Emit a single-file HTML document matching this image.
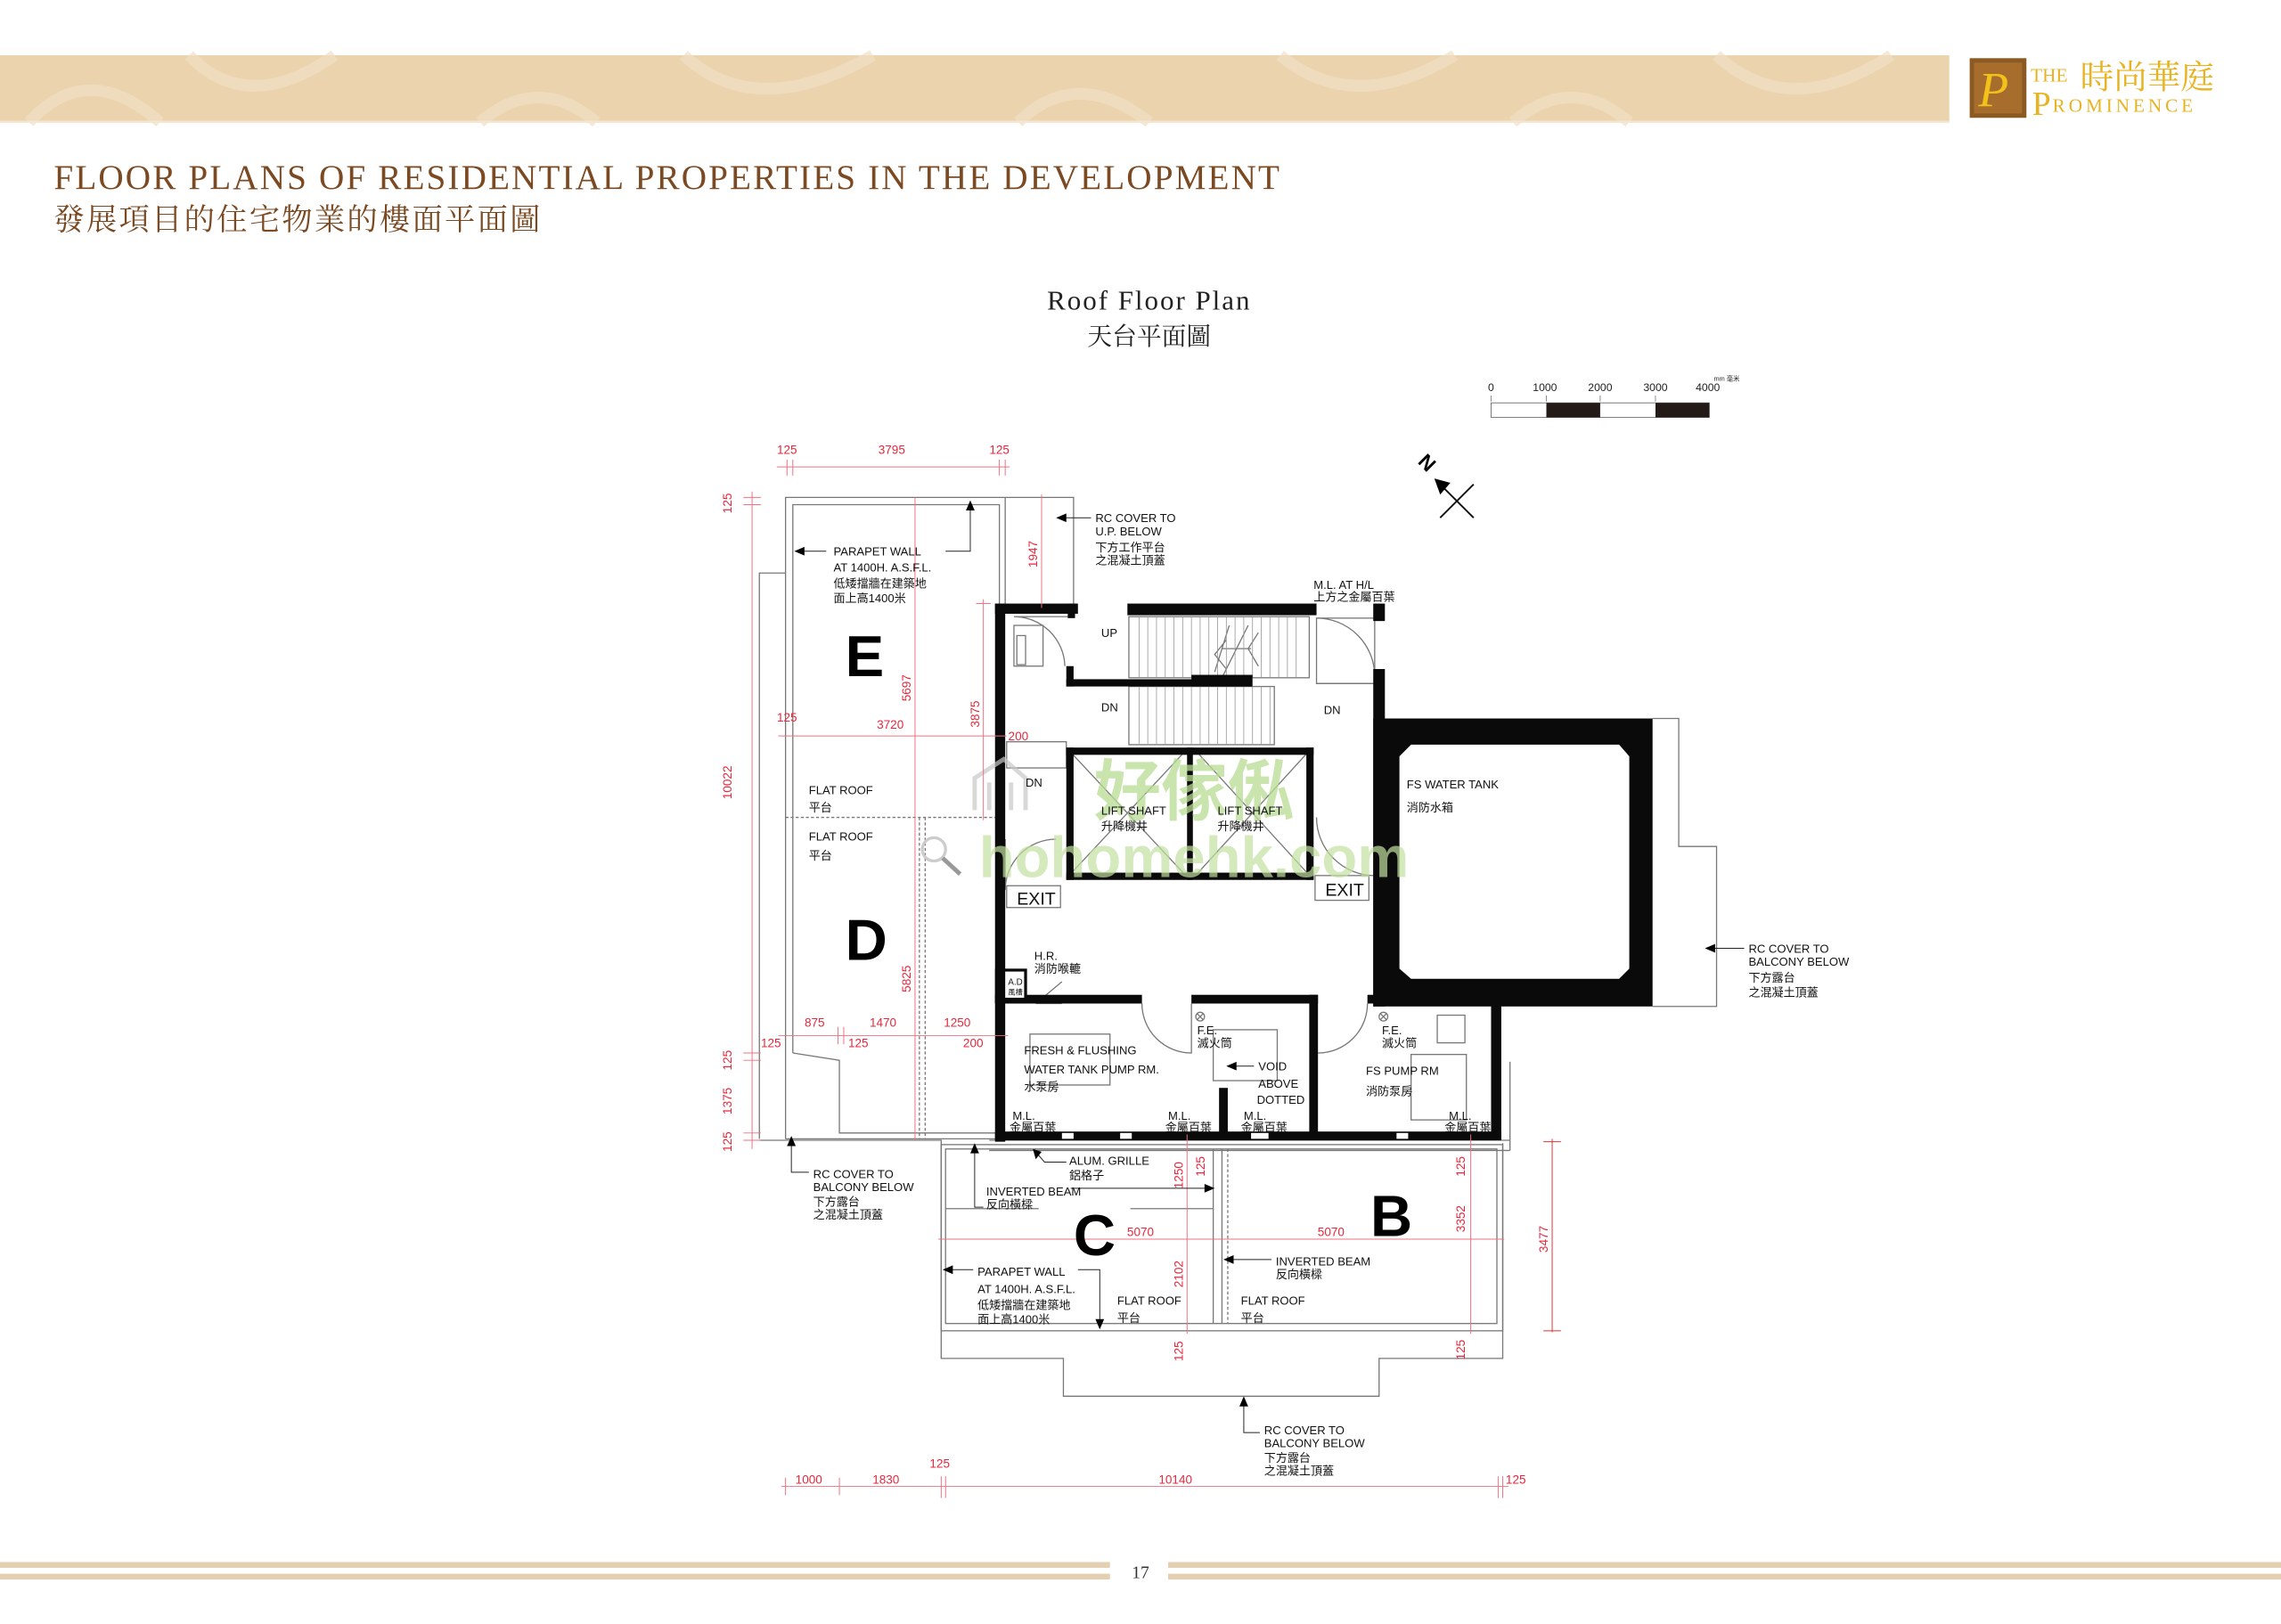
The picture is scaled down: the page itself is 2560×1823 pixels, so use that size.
<!DOCTYPE html>
<html><head><meta charset="utf-8"><style>
html,body{margin:0;padding:0;background:#fff;}
svg{display:block;}
.t{font-family:"Liberation Sans Narrow","Liberation Sans","Noto Sans CJK TC",sans-serif;font-size:8px;fill:#111;}
.r{font-family:"Liberation Sans Narrow","Liberation Sans",sans-serif;font-size:8.3px;fill:#e5283c;}
.big{font-family:"Liberation Sans","DejaVu Sans",sans-serif;font-weight:bold;font-size:40px;fill:#000;}
</style></head><body>
<svg width="2560" height="1823" viewBox="0 0 1568 1116.6" preserveAspectRatio="none" xmlns="http://www.w3.org/2000/svg">
<!-- header band -->
<rect x="0" y="38" width="1340" height="46" fill="#ebd3ae"/>
<g fill="none" stroke="#f1e0c4" stroke-width="8" opacity="0.7">
<path d="M20,84 Q60,40 110,84"/><path d="M130,38 Q170,80 230,38"/><path d="M330,84 Q370,50 410,84"/>
<path d="M470,38 Q520,84 600,38"/><path d="M700,84 Q740,45 790,84"/><path d="M880,38 Q930,80 1000,38"/>
<path d="M1040,84 Q1080,50 1120,84"/><path d="M1180,38 Q1230,84 1300,38"/>
</g>
<rect x="0" y="83" width="1340" height="1.5" fill="#f4e6d2"/>
<!-- logo -->
<rect x="1354" y="40" width="39" height="41" fill="#8a5a22"/>
<rect x="1357" y="43" width="33" height="35" fill="#a66d2c"/>
<text x="1360" y="73" font-family="Liberation Serif,serif" font-style="italic" font-size="34" fill="#f2c21a">P</text>
<text x="1396" y="56" font-family="Liberation Serif,serif" font-size="13" fill="#e8b320">THE</text>
<text x="1430" y="61" font-family="Liberation Serif,'Noto Serif CJK SC',serif" font-size="23" fill="#e8b320">時尚華庭</text>
<text x="1397" y="79" font-family="Liberation Serif,serif" font-size="23" fill="#e8b320">P</text>
<text x="1411" y="77" font-family="Liberation Serif,serif" font-size="13" letter-spacing="2.4" fill="#e8b320">ROMINENCE</text>
<!-- titles -->
<text x="37" y="130" font-family="Liberation Serif,serif" font-size="24" fill="#7b4a22" letter-spacing="1.3">FLOOR  PLANS  OF  RESIDENTIAL  PROPERTIES  IN  THE  DEVELOPMENT</text>
<text x="37" y="158" font-family="Liberation Serif,'Noto Serif CJK SC',serif" font-size="21" fill="#7b4a22" letter-spacing="1.4">發展項目的住宅物業的樓面平面圖</text>
<text x="790" y="213" text-anchor="middle" font-family="Liberation Serif,serif" font-size="19" fill="#222" letter-spacing="1.2">Roof  Floor  Plan</text>
<text x="790" y="237" text-anchor="middle" font-family="Liberation Serif,'Noto Serif CJK SC',serif" font-size="17" fill="#222">天台平面圖</text>
<!-- scale bar -->
<g font-family="Liberation Sans,sans-serif" font-size="7.5" fill="#222" text-anchor="middle">
<text x="1025" y="269">0</text><text x="1062" y="269">1000</text><text x="1100" y="269">2000</text><text x="1138" y="269">3000</text><text x="1174" y="269">4000</text>
<text x="1187" y="262" font-size="4.5">mm 毫米</text></g>
<g stroke="#888" stroke-width="0.6"><line x1="1025" y1="272" x2="1025" y2="276"/><line x1="1063" y1="272" x2="1063" y2="276"/><line x1="1100" y1="272" x2="1100" y2="276"/><line x1="1138" y1="272" x2="1138" y2="276"/></g>
<rect x="1025" y="277" width="150" height="10" fill="#fff" stroke="#777" stroke-width="0.6"/>
<rect x="1063" y="277" width="37" height="10" fill="#231a17"/><rect x="1138" y="277" width="37" height="10" fill="#231a17"/>
<!-- north -->
<g stroke="#111" stroke-width="1.2" fill="none"><line x1="990" y1="333" x2="1013" y2="356"/><line x1="990" y1="356" x2="1013" y2="333"/></g>
<polygon points="986,329 997,332 990,340" fill="#000"/>
<text x="0" y="0" transform="translate(974,318) rotate(45)" font-family="Liberation Sans,sans-serif" font-weight="bold" font-size="14" fill="#000">N</text>

<!-- ===== plan thin outlines ===== -->
<g fill="none" stroke="#777" stroke-width="0.8">
<polyline points="540,783 540,342 738,342 738,416"/>
<polyline points="545,724 545,347 687,347 687,416"/>
<line x1="691" y1="342" x2="691" y2="416"/>
<polyline points="545,724 577,729 577,779 684,779"/>
<polyline points="540,783 684,783"/>
<polyline points="522,783 522,394 540,394"/>
<polyline points="522,784 647,784 647,934 731,934 731,960 948,960 948,934 1033,934 1033,786"/>
<rect x="647" y="787" width="386" height="128"/>
<rect x="650" y="790" width="379" height="120"/>
<line x1="834" y1="790" x2="834" y2="910"/><line x1="840" y1="790" x2="840" y2="910"/>
<line x1="650" y1="831" x2="714" y2="831"/><line x1="777" y1="831" x2="834" y2="831"/>
<line x1="680" y1="784" x2="1038" y2="784"/><line x1="680" y1="791" x2="1038" y2="791"/>
<line x1="1038" y1="730" x2="1038" y2="791"/>
<polyline points="1136,494 1154,494 1154,582 1180,582 1180,692 1136,692"/>
<line x1="636" y1="562" x2="636" y2="783" stroke-dasharray="2,1.5"/>
<line x1="632" y1="562" x2="632" y2="783" stroke-dasharray="2,1.5"/>
<line x1="540" y1="562" x2="684" y2="562" stroke-dasharray="2,1.5"/>
<line x1="844" y1="790" x2="844" y2="910" stroke-dasharray="2,1.5"/>
<rect x="697" y="430" width="20" height="28"/><rect x="699" y="437" width="6" height="20"/>
<path d="M697,424 L737,424 M697,424 A35,35 0 0 1 732,458"/>
<rect x="776" y="424" width="124" height="42"/><rect x="776" y="472" width="100" height="40"/>
<rect x="905" y="425" width="40" height="45"/>
<path d="M905,425 A40,40 0 0 1 945,465"/>
<path d="M905,470 L945,470"/>
<rect x="692" y="510" width="41" height="18"/>
<path d="M691,612 A35,35 0 0 1 726,577 M691,612 L691,577"/>
<path d="M945,602 A40,40 0 0 1 905,562"/>
<rect x="962" y="580" width="26" height="25"/><rect x="962" y="584" width="6" height="17"/>
<rect x="692" y="609" width="37" height="15"/><rect x="904" y="602" width="37" height="17"/>
<path d="M785,690 A34,34 0 0 0 819,724 L819,690"/>
<path d="M940,690 A34,34 0 0 1 906,724"/>
<rect x="708" y="711" width="55" height="35"/><rect x="834" y="708" width="44" height="35"/>
<rect x="988" y="698" width="19" height="19"/><rect x="970" y="725" width="38" height="45"/>
<path d="M712,690 L730,675 M712,690 L730,690"/>
<line x1="733" y1="514" x2="817" y2="604"/><line x1="817" y1="514" x2="733" y2="604"/>
<line x1="820" y1="514" x2="902" y2="604"/><line x1="902" y1="514" x2="820" y2="604"/>
<path d="M845,430 L835,462 M858,430 L840,466 M840,446 L860,446 M843,440 L835,450 L843,460 M865,435 L858,446 L865,458"/>
<circle cx="825" cy="699" r="3"/><path d="M823,697 L827,701 M827,697 L823,701"/>
<circle cx="951" cy="699" r="3"/><path d="M949,697 L953,701 M953,697 L949,701"/>
</g>
<path stroke="#999" stroke-width="0.5" fill="none" d="M783,424V466M789,424V466M795,424V466M801,424V466M807,424V466M813,424V466M819,424V466M825,424V466M831,424V466M837,424V466M843,424V466M849,424V466M855,424V466M861,424V466M867,424V466M873,424V466M879,424V466M885,424V466M891,424V466M783,472V512M789,472V512M795,472V512M801,472V512M807,472V512M813,472V512M819,472V512M825,472V512M831,472V512M837,472V512M843,472V512M849,472V512M855,472V512M861,472V512M867,472V512M873,472V512"/>
<!-- ===== black walls ===== -->
<g fill="#0a0a0a">
<rect x="684" y="415" width="7" height="370"/>
<rect x="684" y="415" width="57" height="7"/>
<rect x="734" y="415" width="5" height="10"/>
<rect x="775" y="415" width="130" height="8"/>
<rect x="944" y="415" width="8" height="12"/>
<rect x="944" y="460" width="8" height="232"/>
<rect x="733" y="458" width="5" height="14"/>
<rect x="733" y="467" width="127" height="5"/>
<rect x="819" y="464" width="42" height="8"/>
<rect x="944" y="494" width="192" height="198"/>
<rect x="733" y="514" width="170" height="5"/><rect x="733" y="600" width="170" height="5"/>
<rect x="733" y="514" width="5" height="91"/><rect x="898" y="514" width="5" height="91"/><rect x="816" y="514" width="4" height="91"/>
<rect x="684" y="666" width="22" height="24"/>
<rect x="684" y="684" width="101" height="6"/>
<rect x="819" y="684" width="87" height="6"/>
<rect x="900" y="684" width="6" height="100"/>
<rect x="940" y="684" width="92" height="6"/>
<rect x="1025" y="684" width="7" height="100"/>
<rect x="838" y="748" width="6" height="36"/>
<rect x="684" y="778" width="348" height="6"/>
</g>
<path fill="#fff" d="M970,512 L1113,512 L1120,520 L1120,666 L1113,673 L970,673 L962,666 L962,520 Z"/>
<rect x="691" y="668" width="13" height="18" fill="#fff"/>
<g fill="#fff"><rect x="730" y="779" width="8" height="4"/><rect x="770" y="779" width="8" height="4"/><rect x="860" y="779" width="12" height="4"/><rect x="960" y="779" width="8" height="4"/></g>
<!-- watermark -->
<text x="752" y="560" font-family="'Noto Sans CJK SC','WenQuanYi Zen Hei',sans-serif" font-weight="bold" font-size="46" fill="#b9dc92" opacity="0.75">好傢俬</text>
<text x="673" y="603" font-family="Liberation Sans,sans-serif" font-weight="bold" font-size="40" fill="#c2e0a0" opacity="0.7">hohomehk.com</text>
<path d="M670,557 L670,535 L690,522 L705,535 L705,557 M680,557 L680,538 M695,557 L695,538" stroke="#c8c8c8" stroke-width="3" fill="none" opacity="0.7"/>
<circle cx="642" cy="584" r="8" stroke="#ccc" stroke-width="2" fill="none"/><line x1="648" y1="590" x2="660" y2="601" stroke="#999" stroke-width="3"/>
<!-- ===== red dimension lines ===== -->
<g stroke="#f0707f" stroke-width="0.6" fill="none">
<line x1="534" y1="321" x2="694" y2="321"/><line x1="541" y1="316" x2="541" y2="327"/><line x1="545" y1="316" x2="545" y2="327"/><line x1="687" y1="316" x2="687" y2="327"/><line x1="691" y1="316" x2="691" y2="327"/>
<line x1="517" y1="338" x2="517" y2="790"/><line x1="511" y1="342" x2="523" y2="342"/><line x1="511" y1="347" x2="523" y2="347"/>
<line x1="511" y1="724" x2="523" y2="724"/><line x1="511" y1="729" x2="523" y2="729"/><line x1="511" y1="779" x2="523" y2="779"/><line x1="511" y1="784" x2="523" y2="784"/>
<line x1="629" y1="342" x2="629" y2="784"/>
<line x1="716" y1="340" x2="716" y2="418"/>
<line x1="676" y1="412" x2="676" y2="564"/><line x1="671" y1="415" x2="681" y2="415"/>
<line x1="535" y1="506" x2="692" y2="506"/>
<line x1="535" y1="712" x2="693" y2="712"/><line x1="576" y1="706" x2="576" y2="718"/><line x1="580" y1="706" x2="580" y2="718"/>
<line x1="816" y1="780" x2="816" y2="917"/><line x1="1011" y1="780" x2="1011" y2="917"/>
<line x1="645" y1="852" x2="1034" y2="852"/>
<line x1="537" y1="1022" x2="1037" y2="1022"/><line x1="540" y1="1016" x2="540" y2="1028"/><line x1="577" y1="1016" x2="577" y2="1028"/><line x1="647" y1="1015" x2="647" y2="1030"/><line x1="650" y1="1015" x2="650" y2="1030"/><line x1="1030" y1="1015" x2="1030" y2="1030"/><line x1="1033" y1="1015" x2="1033" y2="1030"/>
</g>
<g stroke="#d33" stroke-width="0.6"><line x1="1067" y1="783" x2="1067" y2="916"/><line x1="1061" y1="785" x2="1073" y2="785"/><line x1="1061" y1="915" x2="1073" y2="915"/></g>
<g class="r" text-anchor="middle">
<text x="541" y="312">125</text><text x="613" y="312">3795</text><text x="687" y="312">125</text>
<text x="541" y="496">125</text><text x="612" y="501">3720</text><text x="700" y="509">200</text>
<text x="560" y="706">875</text><text x="607" y="706">1470</text><text x="658" y="706">1250</text>
<text x="530" y="720">125</text><text x="590" y="720">125</text><text x="669" y="720">200</text>
<text x="784" y="850">5070</text><text x="915" y="850">5070</text>
<text x="556" y="1020">1000</text><text x="609" y="1020">1830</text><text x="646" y="1009">125</text><text x="808" y="1020">10140</text><text x="1042" y="1020">125</text>
</g>
<g class="r" text-anchor="middle">
<text transform="translate(503,346) rotate(-90)">125</text>
<text transform="translate(503,538) rotate(-90)">10022</text>
<text transform="translate(503,729) rotate(-90)">125</text>
<text transform="translate(503,757) rotate(-90)">1375</text>
<text transform="translate(503,785) rotate(-90)">125</text>
<text transform="translate(713,381) rotate(-90)">1947</text>
<text transform="translate(626,473) rotate(-90)">5697</text>
<text transform="translate(673,491) rotate(-90)">3875</text>
<text transform="translate(626,673) rotate(-90)">5825</text>
<text transform="translate(813,808) rotate(-90)">1250</text>
<text transform="translate(828,802) rotate(-90)">125</text>
<text transform="translate(813,876) rotate(-90)">2102</text>
<text transform="translate(813,929) rotate(-90)">125</text>
<text transform="translate(1007,802) rotate(-90)">125</text>
<text transform="translate(1007,838) rotate(-90)">3352</text>
<text transform="translate(1007,928) rotate(-90)">125</text>
<text transform="translate(1064,852) rotate(-90)">3477</text>
</g>
<text class="big" x="581" y="465">E</text>
<text class="big" x="581" y="660">D</text>
<text class="big" x="738" y="863">C</text>
<text class="big" x="942" y="850">B</text>
<g stroke="#222" stroke-width="0.6" fill="none">
<line x1="552" y1="379" x2="568" y2="379"/><polyline points="650,379 667,379 667,350"/>
<line x1="731" y1="356" x2="750" y2="356"/>
<polyline points="544,788 544,806 556,806"/>
<polyline points="670,792 670,830 676,830"/><line x1="736" y1="817" x2="830" y2="817"/>
<polyline points="712,792 718,799 733,799"/>
<line x1="846" y1="866" x2="874" y2="866"/>
<line x1="653" y1="873" x2="669" y2="873"/><polyline points="741,873 756,873 756,908"/>
<line x1="848" y1="733" x2="862" y2="733"/>
<polyline points="855,966 855,985 866,985"/>
<line x1="1177" y1="652" x2="1199" y2="652"/>
</g>
<g fill="#000">
<polygon points="546,379 553,376 553,382"/><polygon points="667,344 664,351 670,351"/>
<polygon points="726,356 733,353 733,359"/><polygon points="544,781 541,788 547,788"/>
<polygon points="670,786 667,793 673,793"/><polygon points="835,817 828,814 828,820"/>
<polygon points="710,790 716,792 712,797"/><polygon points="841,866 848,863 848,869"/>
<polygon points="648,873 655,870 655,876"/><polygon points="756,914 753,907 759,907"/>
<polygon points="843,733 850,730 850,736"/><polygon points="855,960 852,967 858,967"/>
<polygon points="1172,652 1179,649 1179,655"/>
</g>
<g class="t">
<text x="573" y="382">PARAPET WALL</text><text x="573" y="393">AT 1400H. A.S.F.L.</text><text x="573" y="404">低矮擋牆在建築地</text><text x="573" y="414">面上高1400米</text>
<text x="753" y="359">RC COVER TO</text><text x="753" y="368">U.P. BELOW</text><text x="753" y="379">下方工作平台</text><text x="753" y="388">之混凝土頂蓋</text>
<text x="903" y="405">M.L. AT H/L</text><text x="903" y="413">上方之金屬百葉</text>
<text x="757" y="438">UP</text><text x="757" y="489">DN</text><text x="910" y="491">DN</text><text x="705" y="541">DN</text>
<text x="757" y="560">LIFT SHAFT</text><text x="757" y="571">升降機井</text><text x="837" y="560">LIFT SHAFT</text><text x="837" y="571">升降機井</text>
<text x="556" y="546">FLAT ROOF</text><text x="556" y="558">平台</text><text x="556" y="578">FLAT ROOF</text><text x="556" y="591">平台</text>
<text x="967" y="542">FS WATER TANK</text><text x="967" y="558">消防水箱</text>
<text x="711" y="660">H.R.</text><text x="711" y="669">消防喉轆</text>
<text x="693" y="677" font-size="6">A.D</text><text x="693" y="684" font-size="5">風槽</text>
<text x="704" y="725">FRESH &amp; FLUSHING</text><text x="704" y="738">WATER TANK PUMP RM.</text><text x="704" y="750">水泵房</text>
<text x="823" y="711">F.E.</text><text x="823" y="720">滅火筒</text>
<text x="865" y="736">VOID</text><text x="865" y="748">ABOVE</text><text x="864" y="759">DOTTED</text>
<text x="950" y="711">F.E.</text><text x="950" y="720">滅火筒</text>
<text x="939" y="739">FS PUMP RM</text><text x="939" y="753">消防泵房</text>
<text x="696" y="770">M.L.</text><text x="694" y="778">金屬百葉</text>
<text x="803" y="770">M.L.</text><text x="801" y="778">金屬百葉</text>
<text x="855" y="770">M.L.</text><text x="853" y="778">金屬百葉</text>
<text x="996" y="770">M.L.</text><text x="993" y="778">金屬百葉</text>
<text x="735" y="801">ALUM. GRILLE</text><text x="735" y="811">鋁格子</text>
<text x="678" y="822">INVERTED BEAM</text><text x="678" y="831">反向橫樑</text>
<text x="877" y="870">INVERTED BEAM</text><text x="877" y="879">反向橫樑</text>
<text x="672" y="877">PARAPET WALL</text><text x="672" y="889">AT 1400H. A.S.F.L.</text><text x="672" y="900">低矮擋牆在建築地</text><text x="672" y="910">面上高1400米</text>
<text x="768" y="897">FLAT ROOF</text><text x="768" y="909">平台</text><text x="853" y="897">FLAT ROOF</text><text x="853" y="909">平台</text>
<text x="559" y="810">RC COVER TO</text><text x="559" y="819">BALCONY BELOW</text><text x="559" y="829">下方露台</text><text x="559" y="838">之混凝土頂蓋</text>
<text x="1202" y="655">RC COVER TO</text><text x="1202" y="664">BALCONY BELOW</text><text x="1202" y="675">下方露台</text><text x="1202" y="685">之混凝土頂蓋</text>
<text x="869" y="986">RC COVER TO</text><text x="869" y="995">BALCONY BELOW</text><text x="869" y="1005">下方露台</text><text x="869" y="1014">之混凝土頂蓋</text>
</g>
<g font-family="Liberation Sans Narrow,Liberation Sans,sans-serif" font-size="12" fill="#111">
<text x="699" y="622">EXIT</text><text x="911" y="616">EXIT</text></g>
<g fill="#e4cfb2"><rect x="0" y="1074" width="763" height="4"/><rect x="0" y="1082" width="763" height="4"/><rect x="803" y="1074" width="765" height="4"/><rect x="803" y="1082" width="765" height="4"/></g>
<text x="784" y="1085" text-anchor="middle" font-family="Liberation Serif,serif" font-size="12" fill="#333">17</text>
</svg>
</body></html>
